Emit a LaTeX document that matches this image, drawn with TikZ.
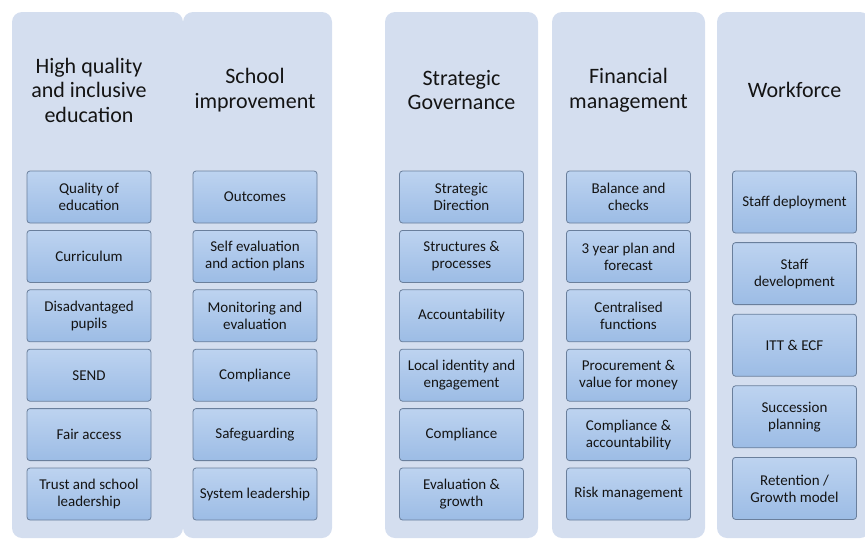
\documentclass[tikz,border=0pt]{standalone}
\usepackage{fontspec}
\setmainfont{Carlito}
\usepackage{tikz}
\usetikzlibrary{positioning}
\definecolor{panelfill}{HTML}{D4DEEF}
\definecolor{boxtop}{HTML}{BDD3F0}
\definecolor{boxbot}{HTML}{9CBCE5}
\definecolor{boxline}{HTML}{6A7F9C}
\definecolor{inktext}{HTML}{141414}
\tikzset{
    panel/.style={rectangle,rounded corners=10pt,fill=panelfill,
        minimum height=526pt,inner sep=0pt},
    heading/.style={align=center,text=inktext,
        font=\fontsize{22}{24.5}\selectfont},
    item/.style={rectangle,rounded corners=3pt,draw=boxline,line width=0.8pt,
        top color=boxtop,bottom color=boxbot,minimum width=124pt,
        minimum height=52pt,inner sep=1pt,align=center,text=inktext,
        font=\fontsize{15}{17}\selectfont},
    tallitem/.style={item,minimum height=62pt}
}
\begin{document}
\begin{tikzpicture}[x=1pt,y=-1pt,node distance=6.6pt]
    \clip (0,0) rectangle (865,539);
    % background panels
    \node[panel,minimum width=171pt] (p1) at (97.5,275) {};
    \node[panel,minimum width=149pt] (p2) at (257.5,275) {};
    \node[panel,minimum width=153pt] (p3) at (461.5,275) {};
    \node[panel,minimum width=153pt] (p4) at (628.5,275) {};
    \node[panel,minimum width=153pt] (p5) at (793.5,275) {};

    % headings
    \node[heading] (t1) at (89,90)    {High quality\\and inclusive\\education};
    \node[heading] (t2) at (255,90)   {School\\improvement};
    \node[heading] (t3) at (461.5,90) {Strategic\\Governance};
    \node[heading] (t4) at (628.5,90) {Financial\\management};
    \node[heading] (t5) at (794.5,90) {Workforce};

    % high quality and inclusive education
    \node[item] (a1) at (89,197) {Quality of\\education};
    \node[item] (a2) [below=of a1] {Curriculum};
    \node[item] (a3) [below=of a2] {Disadvantaged\\pupils};
    \node[item] (a4) [below=of a3] {SEND};
    \node[item] (a5) [below=of a4] {Fair access};
    \node[item] (a6) [below=of a5] {Trust and school\\leadership};

    % school improvement
    \node[item] (b1) at (255,197) {Outcomes};
    \node[item] (b2) [below=of b1] {Self evaluation\\and action plans};
    \node[item] (b3) [below=of b2] {Monitoring and\\evaluation};
    \node[item] (b4) [below=of b3] {Compliance};
    \node[item] (b5) [below=of b4] {Safeguarding};
    \node[item] (b6) [below=of b5] {System leadership};

    % strategic governance
    \node[item] (c1) at (461.5,197) {Strategic\\Direction};
    \node[item] (c2) [below=of c1] {Structures \&\\processes};
    \node[item] (c3) [below=of c2] {Accountability};
    \node[item] (c4) [below=of c3] {Local identity and\\engagement};
    \node[item] (c5) [below=of c4] {Compliance};
    \node[item] (c6) [below=of c5] {Evaluation \&\\growth};

    % financial management
    \node[item] (d1) at (628.5,197) {Balance and\\checks};
    \node[item] (d2) [below=of d1] {3 year plan and\\forecast};
    \node[item] (d3) [below=of d2] {Centralised\\functions};
    \node[item] (d4) [below=of d3] {Procurement \&\\value for money};
    \node[item] (d5) [below=of d4] {Compliance \&\\accountability};
    \node[item] (d6) [below=of d5] {Risk management};

    % workforce
    \node[tallitem] (e1) at (794.5,202) {Staff deployment};
    \node[tallitem] (e2) [below=8.8pt of e1] {Staff\\development};
    \node[tallitem] (e3) [below=8.8pt of e2] {ITT \& ECF};
    \node[tallitem] (e4) [below=8.8pt of e3] {Succession\\planning};
    \node[tallitem] (e5) [below=8.8pt of e4] {Retention /\\Growth model};
\end{tikzpicture}
\end{document}
